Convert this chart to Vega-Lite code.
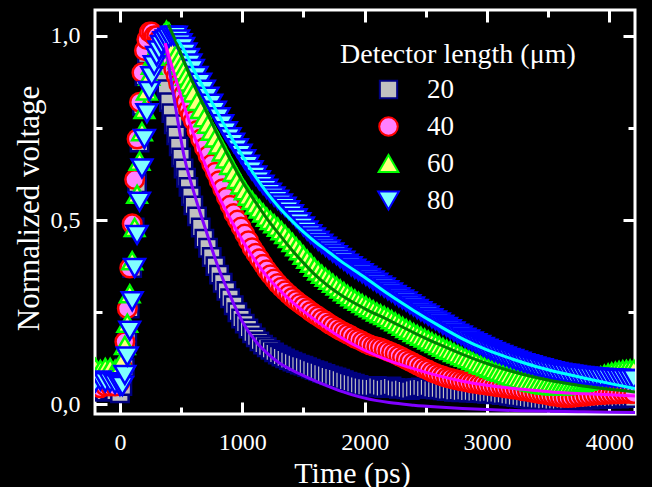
{
"$schema": "https://vega.github.io/schema/vega-lite/v6.json",
"width": 540, "height": 404,
"autosize": {"type": "none"},
"padding": {"left": 95, "top": 10, "right": 17, "bottom": 73},
"background": "black",
"config": {
 "view": {"stroke": "white", "strokeWidth": 3},
 "font": "Liberation Serif",
 "axis": {"grid": false, "domain": false, "tickColor": "white", "tickWidth": 3, "labelColor": "white", "titleColor": "white", "labelFont": "Liberation Serif", "titleFont": "Liberation Serif", "titleFontWeight": "normal"},
 "legend": {"titleColor": "white", "labelColor": "white", "titleFont": "Liberation Serif", "labelFont": "Liberation Serif", "titleFontWeight": "normal"}
},
"datasets": {
"m": [
{"s":"20","t":-200,"v":0.035},{"s":"20","t":-160,"v":0.04},{"s":"20","t":-120,"v":0.035},{"s":"20","t":-80,"v":0.04},{"s":"20","t":-40,"v":0.035},
{"s":"20","t":0,"v":0.03},{"s":"20","t":20,"v":0.05},{"s":"20","t":40,"v":0.1},{"s":"20","t":60,"v":0.17},{"s":"20","t":80,"v":0.26},{"s":"20","t":100,"v":0.37},{"s":"20","t":120,"v":0.48},{"s":"20","t":140,"v":0.6},{"s":"20","t":160,"v":0.71},{"s":"20","t":180,"v":0.81},{"s":"20","t":200,"v":0.89},{"s":"20","t":220,"v":0.95},{"s":"20","t":240,"v":0.99},{"s":"20","t":260,"v":1.0},{"s":"20","t":280,"v":0.99},{"s":"20","t":300,"v":0.97},{"s":"20","t":320,"v":0.95},{"s":"20","t":340,"v":0.92},{"s":"20","t":360,"v":0.89},{"s":"20","t":380,"v":0.855},{"s":"20","t":400,"v":0.82},{"s":"20","t":420,"v":0.79},{"s":"20","t":440,"v":0.76},{"s":"20","t":460,"v":0.73},{"s":"20","t":480,"v":0.7},{"s":"20","t":500,"v":0.67},{"s":"20","t":520,"v":0.64},{"s":"20","t":540,"v":0.615},{"s":"20","t":560,"v":0.59},{"s":"20","t":580,"v":0.565},{"s":"20","t":600,"v":0.54},
{"s":"20","t":630,"v":0.51},{"s":"20","t":660,"v":0.48},{"s":"20","t":690,"v":0.45},{"s":"20","t":720,"v":0.425},{"s":"20","t":750,"v":0.4},{"s":"20","t":780,"v":0.375},{"s":"20","t":810,"v":0.352},{"s":"20","t":840,"v":0.33},{"s":"20","t":870,"v":0.308},{"s":"20","t":900,"v":0.288},{"s":"20","t":930,"v":0.269},{"s":"20","t":960,"v":0.25},{"s":"20","t":990,"v":0.233},{"s":"20","t":1020,"v":0.219},{"s":"20","t":1050,"v":0.206},{"s":"20","t":1080,"v":0.193},{"s":"20","t":1110,"v":0.182},{"s":"20","t":1140,"v":0.171},{"s":"20","t":1170,"v":0.162},{"s":"20","t":1200,"v":0.155},{"s":"20","t":1230,"v":0.148},{"s":"20","t":1260,"v":0.141},{"s":"20","t":1290,"v":0.135},{"s":"20","t":1320,"v":0.13},{"s":"20","t":1350,"v":0.125},{"s":"20","t":1380,"v":0.12},{"s":"20","t":1410,"v":0.116},{"s":"20","t":1440,"v":0.112},{"s":"20","t":1470,"v":0.108},{"s":"20","t":1500,"v":0.105},{"s":"20","t":1530,"v":0.101},{"s":"20","t":1560,"v":0.097},{"s":"20","t":1590,"v":0.093},{"s":"20","t":1620,"v":0.09},{"s":"20","t":1650,"v":0.086},{"s":"20","t":1680,"v":0.083},{"s":"20","t":1710,"v":0.079},{"s":"20","t":1740,"v":0.076},{"s":"20","t":1770,"v":0.073},{"s":"20","t":1800,"v":0.07},{"s":"20","t":1830,"v":0.066},{"s":"20","t":1860,"v":0.062},{"s":"20","t":1890,"v":0.059},{"s":"20","t":1920,"v":0.056},{"s":"20","t":1950,"v":0.053},{"s":"20","t":1980,"v":0.05},
{"s":"20","t":2010,"v":0.048},{"s":"20","t":2040,"v":0.047},{"s":"20","t":2070,"v":0.046},{"s":"20","t":2100,"v":0.05},{"s":"20","t":2130,"v":0.047},{"s":"20","t":2160,"v":0.044},{"s":"20","t":2190,"v":0.046},{"s":"20","t":2220,"v":0.049},{"s":"20","t":2250,"v":0.045},{"s":"20","t":2280,"v":0.042},{"s":"20","t":2310,"v":0.044},{"s":"20","t":2340,"v":0.041},{"s":"20","t":2370,"v":0.039},{"s":"20","t":2400,"v":0.042},{"s":"20","t":2430,"v":0.045},{"s":"20","t":2460,"v":0.046},{"s":"20","t":2490,"v":0.043},{"s":"20","t":2520,"v":0.046},{"s":"20","t":2550,"v":0.042},{"s":"20","t":2580,"v":0.04},{"s":"20","t":2610,"v":0.041},{"s":"20","t":2640,"v":0.038},{"s":"20","t":2670,"v":0.036},{"s":"20","t":2700,"v":0.037},{"s":"20","t":2730,"v":0.034},{"s":"20","t":2760,"v":0.035},{"s":"20","t":2790,"v":0.033},{"s":"20","t":2820,"v":0.034},{"s":"20","t":2850,"v":0.032},{"s":"20","t":2880,"v":0.033},{"s":"20","t":2910,"v":0.031},{"s":"20","t":2940,"v":0.032},{"s":"20","t":2970,"v":0.03},{"s":"20","t":3000,"v":0.029},{"s":"20","t":3030,"v":0.03},{"s":"20","t":3060,"v":0.027},{"s":"20","t":3090,"v":0.028},{"s":"20","t":3120,"v":0.025},{"s":"20","t":3150,"v":0.026},{"s":"20","t":3180,"v":0.023},{"s":"20","t":3210,"v":0.022},{"s":"20","t":3240,"v":0.02},{"s":"20","t":3270,"v":0.019},{"s":"20","t":3300,"v":0.017},{"s":"20","t":3330,"v":0.016},{"s":"20","t":3360,"v":0.014},{"s":"20","t":3390,"v":0.014},{"s":"20","t":3420,"v":0.012},{"s":"20","t":3450,"v":0.012},{"s":"20","t":3480,"v":0.01},{"s":"20","t":3510,"v":0.011},{"s":"20","t":3540,"v":0.009},{"s":"20","t":3570,"v":0.01},{"s":"20","t":3600,"v":0.009},{"s":"20","t":3630,"v":0.011},{"s":"20","t":3660,"v":0.01},{"s":"20","t":3690,"v":0.012},{"s":"20","t":3720,"v":0.011},{"s":"20","t":3750,"v":0.013},{"s":"20","t":3780,"v":0.012},{"s":"20","t":3810,"v":0.014},{"s":"20","t":3840,"v":0.013},{"s":"20","t":3870,"v":0.015},{"s":"20","t":3900,"v":0.014},{"s":"20","t":3930,"v":0.016},{"s":"20","t":3960,"v":0.015},{"s":"20","t":3990,"v":0.017},{"s":"20","t":4020,"v":0.016},{"s":"20","t":4050,"v":0.017},{"s":"20","t":4080,"v":0.016},{"s":"20","t":4110,"v":0.018},{"s":"20","t":4140,"v":0.017},{"s":"20","t":4170,"v":0.018},{"s":"20","t":4200,"v":0.017},

{"s":"40","t":-200,"v":0.05},{"s":"40","t":-160,"v":0.045},{"s":"40","t":-120,"v":0.05},{"s":"40","t":-80,"v":0.05},{"s":"40","t":-40,"v":0.05},
{"s":"40","t":0,"v":0.06},{"s":"40","t":20,"v":0.1},{"s":"40","t":40,"v":0.17},{"s":"40","t":60,"v":0.26},{"s":"40","t":80,"v":0.37},{"s":"40","t":100,"v":0.49},{"s":"40","t":120,"v":0.61},{"s":"40","t":140,"v":0.72},{"s":"40","t":160,"v":0.82},{"s":"40","t":180,"v":0.9},{"s":"40","t":200,"v":0.96},{"s":"40","t":220,"v":0.99},{"s":"40","t":240,"v":1.01},{"s":"40","t":260,"v":1.01},{"s":"40","t":280,"v":1.0},{"s":"40","t":300,"v":1.0},{"s":"40","t":320,"v":0.99},{"s":"40","t":340,"v":0.98},{"s":"40","t":360,"v":0.97},{"s":"40","t":380,"v":0.96},{"s":"40","t":400,"v":0.95},{"s":"40","t":420,"v":0.93},{"s":"40","t":440,"v":0.91},{"s":"40","t":460,"v":0.89},{"s":"40","t":480,"v":0.87},{"s":"40","t":500,"v":0.86},{"s":"40","t":520,"v":0.84},{"s":"40","t":540,"v":0.82},{"s":"40","t":560,"v":0.8},{"s":"40","t":580,"v":0.785},{"s":"40","t":600,"v":0.77},
{"s":"40","t":630,"v":0.743},{"s":"40","t":660,"v":0.72},{"s":"40","t":690,"v":0.697},{"s":"40","t":720,"v":0.675},{"s":"40","t":750,"v":0.652},{"s":"40","t":780,"v":0.63},{"s":"40","t":810,"v":0.607},{"s":"40","t":840,"v":0.585},{"s":"40","t":870,"v":0.562},{"s":"40","t":900,"v":0.54},{"s":"40","t":930,"v":0.518},{"s":"40","t":960,"v":0.5},{"s":"40","t":990,"v":0.481},{"s":"40","t":1020,"v":0.462},{"s":"40","t":1050,"v":0.444},{"s":"40","t":1080,"v":0.425},{"s":"40","t":1110,"v":0.41},{"s":"40","t":1140,"v":0.395},{"s":"40","t":1170,"v":0.38},{"s":"40","t":1200,"v":0.365},{"s":"40","t":1230,"v":0.352},{"s":"40","t":1260,"v":0.34},{"s":"40","t":1290,"v":0.328},{"s":"40","t":1320,"v":0.318},{"s":"40","t":1350,"v":0.308},{"s":"40","t":1380,"v":0.299},{"s":"40","t":1410,"v":0.29},{"s":"40","t":1440,"v":0.282},{"s":"40","t":1470,"v":0.274},{"s":"40","t":1500,"v":0.267},{"s":"40","t":1530,"v":0.26},{"s":"40","t":1560,"v":0.252},{"s":"40","t":1590,"v":0.245},{"s":"40","t":1620,"v":0.239},{"s":"40","t":1650,"v":0.232},{"s":"40","t":1680,"v":0.226},{"s":"40","t":1710,"v":0.219},{"s":"40","t":1740,"v":0.213},{"s":"40","t":1770,"v":0.207},{"s":"40","t":1800,"v":0.201},{"s":"40","t":1830,"v":0.196},{"s":"40","t":1860,"v":0.191},{"s":"40","t":1890,"v":0.186},{"s":"40","t":1920,"v":0.18},{"s":"40","t":1950,"v":0.176},{"s":"40","t":1980,"v":0.171},
{"s":"40","t":2010,"v":0.166},{"s":"40","t":2040,"v":0.162},{"s":"40","t":2070,"v":0.158},{"s":"40","t":2100,"v":0.156},{"s":"40","t":2130,"v":0.153},{"s":"40","t":2160,"v":0.149},{"s":"40","t":2190,"v":0.145},{"s":"40","t":2220,"v":0.141},{"s":"40","t":2250,"v":0.137},{"s":"40","t":2280,"v":0.132},{"s":"40","t":2310,"v":0.127},{"s":"40","t":2340,"v":0.122},{"s":"40","t":2370,"v":0.117},{"s":"40","t":2400,"v":0.112},{"s":"40","t":2430,"v":0.107},{"s":"40","t":2460,"v":0.102},{"s":"40","t":2490,"v":0.097},{"s":"40","t":2520,"v":0.093},{"s":"40","t":2550,"v":0.088},{"s":"40","t":2580,"v":0.084},{"s":"40","t":2610,"v":0.08},{"s":"40","t":2640,"v":0.077},{"s":"40","t":2670,"v":0.073},{"s":"40","t":2700,"v":0.071},{"s":"40","t":2730,"v":0.068},{"s":"40","t":2760,"v":0.066},{"s":"40","t":2790,"v":0.064},{"s":"40","t":2820,"v":0.062},{"s":"40","t":2850,"v":0.06},{"s":"40","t":2880,"v":0.058},{"s":"40","t":2910,"v":0.057},{"s":"40","t":2940,"v":0.055},{"s":"40","t":2970,"v":0.054},{"s":"40","t":3000,"v":0.052},{"s":"40","t":3030,"v":0.051},{"s":"40","t":3060,"v":0.049},{"s":"40","t":3090,"v":0.048},{"s":"40","t":3120,"v":0.047},{"s":"40","t":3150,"v":0.045},{"s":"40","t":3180,"v":0.044},{"s":"40","t":3210,"v":0.042},{"s":"40","t":3240,"v":0.041},{"s":"40","t":3270,"v":0.039},{"s":"40","t":3300,"v":0.037},{"s":"40","t":3330,"v":0.036},{"s":"40","t":3360,"v":0.034},{"s":"40","t":3390,"v":0.032},{"s":"40","t":3420,"v":0.03},{"s":"40","t":3450,"v":0.029},{"s":"40","t":3480,"v":0.027},{"s":"40","t":3510,"v":0.025},{"s":"40","t":3540,"v":0.023},{"s":"40","t":3570,"v":0.022},{"s":"40","t":3600,"v":0.02},{"s":"40","t":3630,"v":0.019},{"s":"40","t":3660,"v":0.019},{"s":"40","t":3690,"v":0.019},{"s":"40","t":3720,"v":0.02},{"s":"40","t":3750,"v":0.021},{"s":"40","t":3780,"v":0.022},{"s":"40","t":3810,"v":0.023},{"s":"40","t":3840,"v":0.024},{"s":"40","t":3870,"v":0.025},{"s":"40","t":3900,"v":0.026},{"s":"40","t":3930,"v":0.027},{"s":"40","t":3960,"v":0.027},{"s":"40","t":3990,"v":0.028},{"s":"40","t":4020,"v":0.028},{"s":"40","t":4050,"v":0.029},{"s":"40","t":4080,"v":0.029},{"s":"40","t":4110,"v":0.03},{"s":"40","t":4140,"v":0.03},{"s":"40","t":4170,"v":0.03},{"s":"40","t":4200,"v":0.03},

{"s":"60","t":-200,"v":0.1},{"s":"60","t":-160,"v":0.095},{"s":"60","t":-120,"v":0.1},{"s":"60","t":-80,"v":0.1},{"s":"60","t":-40,"v":0.095},
{"s":"60","t":0,"v":0.1},{"s":"60","t":20,"v":0.12},{"s":"60","t":40,"v":0.16},{"s":"60","t":60,"v":0.22},{"s":"60","t":80,"v":0.3},{"s":"60","t":100,"v":0.39},{"s":"60","t":120,"v":0.48},{"s":"60","t":140,"v":0.57},{"s":"60","t":160,"v":0.66},{"s":"60","t":180,"v":0.74},{"s":"60","t":200,"v":0.8},{"s":"60","t":220,"v":0.85},{"s":"60","t":240,"v":0.89},{"s":"60","t":260,"v":0.92},{"s":"60","t":280,"v":0.945},{"s":"60","t":300,"v":0.965},{"s":"60","t":320,"v":0.98},{"s":"60","t":340,"v":0.995},{"s":"60","t":360,"v":1.005},{"s":"60","t":380,"v":1.015},{"s":"60","t":400,"v":1.01},{"s":"60","t":420,"v":0.99},{"s":"60","t":440,"v":0.97},{"s":"60","t":460,"v":0.95},{"s":"60","t":480,"v":0.935},{"s":"60","t":500,"v":0.92},{"s":"60","t":520,"v":0.905},{"s":"60","t":540,"v":0.89},{"s":"60","t":560,"v":0.875},{"s":"60","t":580,"v":0.86},{"s":"60","t":600,"v":0.845},
{"s":"60","t":630,"v":0.822},{"s":"60","t":660,"v":0.8},{"s":"60","t":690,"v":0.778},{"s":"60","t":720,"v":0.76},{"s":"60","t":750,"v":0.741},{"s":"60","t":780,"v":0.723},{"s":"60","t":810,"v":0.704},{"s":"60","t":840,"v":0.685},{"s":"60","t":870,"v":0.666},{"s":"60","t":900,"v":0.648},{"s":"60","t":930,"v":0.629},{"s":"60","t":960,"v":0.61},{"s":"60","t":990,"v":0.595},{"s":"60","t":1020,"v":0.58},{"s":"60","t":1050,"v":0.565},{"s":"60","t":1080,"v":0.553},{"s":"60","t":1110,"v":0.541},{"s":"60","t":1140,"v":0.53},{"s":"60","t":1170,"v":0.519},{"s":"60","t":1200,"v":0.508},{"s":"60","t":1230,"v":0.499},{"s":"60","t":1260,"v":0.49},{"s":"60","t":1290,"v":0.481},{"s":"60","t":1320,"v":0.471},{"s":"60","t":1350,"v":0.461},{"s":"60","t":1380,"v":0.45},{"s":"60","t":1410,"v":0.439},{"s":"60","t":1440,"v":0.428},{"s":"60","t":1470,"v":0.417},{"s":"60","t":1500,"v":0.405},{"s":"60","t":1530,"v":0.394},{"s":"60","t":1560,"v":0.383},{"s":"60","t":1590,"v":0.372},{"s":"60","t":1620,"v":0.362},{"s":"60","t":1650,"v":0.353},{"s":"60","t":1680,"v":0.345},{"s":"60","t":1710,"v":0.337},{"s":"60","t":1740,"v":0.329},{"s":"60","t":1770,"v":0.321},{"s":"60","t":1800,"v":0.313},{"s":"60","t":1830,"v":0.306},{"s":"60","t":1860,"v":0.299},{"s":"60","t":1890,"v":0.292},{"s":"60","t":1920,"v":0.286},{"s":"60","t":1950,"v":0.28},{"s":"60","t":1980,"v":0.274},
{"s":"60","t":2010,"v":0.268},{"s":"60","t":2040,"v":0.262},{"s":"60","t":2070,"v":0.257},{"s":"60","t":2100,"v":0.251},{"s":"60","t":2130,"v":0.246},{"s":"60","t":2160,"v":0.241},{"s":"60","t":2190,"v":0.236},{"s":"60","t":2220,"v":0.23},{"s":"60","t":2250,"v":0.224},{"s":"60","t":2280,"v":0.218},{"s":"60","t":2310,"v":0.212},{"s":"60","t":2340,"v":0.206},{"s":"60","t":2370,"v":0.201},{"s":"60","t":2400,"v":0.195},{"s":"60","t":2430,"v":0.19},{"s":"60","t":2460,"v":0.185},{"s":"60","t":2490,"v":0.18},{"s":"60","t":2520,"v":0.175},{"s":"60","t":2550,"v":0.17},{"s":"60","t":2580,"v":0.165},{"s":"60","t":2610,"v":0.16},{"s":"60","t":2640,"v":0.155},{"s":"60","t":2670,"v":0.15},{"s":"60","t":2700,"v":0.146},{"s":"60","t":2730,"v":0.141},{"s":"60","t":2760,"v":0.137},{"s":"60","t":2790,"v":0.132},{"s":"60","t":2820,"v":0.128},{"s":"60","t":2850,"v":0.124},{"s":"60","t":2880,"v":0.119},{"s":"60","t":2910,"v":0.115},{"s":"60","t":2940,"v":0.11},{"s":"60","t":2970,"v":0.106},{"s":"60","t":3000,"v":0.102},{"s":"60","t":3030,"v":0.098},{"s":"60","t":3060,"v":0.094},{"s":"60","t":3090,"v":0.09},{"s":"60","t":3120,"v":0.087},{"s":"60","t":3150,"v":0.083},{"s":"60","t":3180,"v":0.08},{"s":"60","t":3210,"v":0.076},{"s":"60","t":3240,"v":0.073},{"s":"60","t":3270,"v":0.07},{"s":"60","t":3300,"v":0.067},{"s":"60","t":3330,"v":0.064},{"s":"60","t":3360,"v":0.061},{"s":"60","t":3390,"v":0.059},{"s":"60","t":3420,"v":0.057},{"s":"60","t":3450,"v":0.055},{"s":"60","t":3480,"v":0.053},{"s":"60","t":3510,"v":0.052},{"s":"60","t":3540,"v":0.051},{"s":"60","t":3570,"v":0.05},{"s":"60","t":3600,"v":0.05},{"s":"60","t":3630,"v":0.051},{"s":"60","t":3660,"v":0.052},{"s":"60","t":3690,"v":0.053},{"s":"60","t":3720,"v":0.055},{"s":"60","t":3750,"v":0.057},{"s":"60","t":3780,"v":0.06},{"s":"60","t":3810,"v":0.063},{"s":"60","t":3840,"v":0.066},{"s":"60","t":3870,"v":0.07},{"s":"60","t":3900,"v":0.074},{"s":"60","t":3930,"v":0.078},{"s":"60","t":3960,"v":0.082},{"s":"60","t":3990,"v":0.085},{"s":"60","t":4020,"v":0.088},{"s":"60","t":4050,"v":0.09},{"s":"60","t":4080,"v":0.092},{"s":"60","t":4110,"v":0.094},{"s":"60","t":4140,"v":0.095},{"s":"60","t":4170,"v":0.096},{"s":"60","t":4200,"v":0.096},

{"s":"80","t":-200,"v":0.06},{"s":"80","t":-160,"v":0.065},{"s":"80","t":-120,"v":0.06},{"s":"80","t":-80,"v":0.06},{"s":"80","t":-40,"v":0.055},
{"s":"80","t":0,"v":0.05},{"s":"80","t":20,"v":0.05},{"s":"80","t":40,"v":0.08},{"s":"80","t":60,"v":0.13},{"s":"80","t":80,"v":0.2},{"s":"80","t":100,"v":0.28},{"s":"80","t":120,"v":0.37},{"s":"80","t":140,"v":0.46},{"s":"80","t":160,"v":0.55},{"s":"80","t":180,"v":0.64},{"s":"80","t":200,"v":0.72},{"s":"80","t":220,"v":0.79},{"s":"80","t":240,"v":0.85},{"s":"80","t":260,"v":0.89},{"s":"80","t":280,"v":0.92},{"s":"80","t":300,"v":0.945},{"s":"80","t":320,"v":0.96},{"s":"80","t":340,"v":0.975},{"s":"80","t":360,"v":0.985},{"s":"80","t":380,"v":0.99},{"s":"80","t":400,"v":0.995},{"s":"80","t":420,"v":1.0},{"s":"80","t":440,"v":1.0},{"s":"80","t":460,"v":1.0},{"s":"80","t":480,"v":0.99},{"s":"80","t":500,"v":0.98},{"s":"80","t":520,"v":0.97},{"s":"80","t":540,"v":0.955},{"s":"80","t":560,"v":0.94},{"s":"80","t":580,"v":0.925},{"s":"80","t":600,"v":0.91},
{"s":"80","t":630,"v":0.891},{"s":"80","t":660,"v":0.873},{"s":"80","t":690,"v":0.854},{"s":"80","t":720,"v":0.835},{"s":"80","t":750,"v":0.816},{"s":"80","t":780,"v":0.797},{"s":"80","t":810,"v":0.779},{"s":"80","t":840,"v":0.76},{"s":"80","t":870,"v":0.741},{"s":"80","t":900,"v":0.725},{"s":"80","t":930,"v":0.71},{"s":"80","t":960,"v":0.695},{"s":"80","t":990,"v":0.68},{"s":"80","t":1020,"v":0.665},{"s":"80","t":1050,"v":0.65},{"s":"80","t":1080,"v":0.635},{"s":"80","t":1110,"v":0.621},{"s":"80","t":1140,"v":0.608},{"s":"80","t":1170,"v":0.596},{"s":"80","t":1200,"v":0.585},{"s":"80","t":1230,"v":0.574},{"s":"80","t":1260,"v":0.564},{"s":"80","t":1290,"v":0.555},{"s":"80","t":1320,"v":0.545},{"s":"80","t":1350,"v":0.536},{"s":"80","t":1380,"v":0.527},{"s":"80","t":1410,"v":0.516},{"s":"80","t":1440,"v":0.505},{"s":"80","t":1470,"v":0.494},{"s":"80","t":1500,"v":0.483},{"s":"80","t":1530,"v":0.472},{"s":"80","t":1560,"v":0.462},{"s":"80","t":1590,"v":0.453},{"s":"80","t":1620,"v":0.444},{"s":"80","t":1650,"v":0.436},{"s":"80","t":1680,"v":0.428},{"s":"80","t":1710,"v":0.42},{"s":"80","t":1740,"v":0.412},{"s":"80","t":1770,"v":0.405},{"s":"80","t":1800,"v":0.397},{"s":"80","t":1830,"v":0.39},{"s":"80","t":1860,"v":0.382},{"s":"80","t":1890,"v":0.375},{"s":"80","t":1920,"v":0.368},{"s":"80","t":1950,"v":0.362},{"s":"80","t":1980,"v":0.356},
{"s":"80","t":2010,"v":0.349},{"s":"80","t":2040,"v":0.343},{"s":"80","t":2070,"v":0.336},{"s":"80","t":2100,"v":0.33},{"s":"80","t":2130,"v":0.323},{"s":"80","t":2160,"v":0.317},{"s":"80","t":2190,"v":0.31},{"s":"80","t":2220,"v":0.304},{"s":"80","t":2250,"v":0.297},{"s":"80","t":2280,"v":0.291},{"s":"80","t":2310,"v":0.285},{"s":"80","t":2340,"v":0.279},{"s":"80","t":2370,"v":0.272},{"s":"80","t":2400,"v":0.266},{"s":"80","t":2430,"v":0.259},{"s":"80","t":2460,"v":0.253},{"s":"80","t":2490,"v":0.247},{"s":"80","t":2520,"v":0.241},{"s":"80","t":2550,"v":0.234},{"s":"80","t":2580,"v":0.228},{"s":"80","t":2610,"v":0.222},{"s":"80","t":2640,"v":0.216},{"s":"80","t":2670,"v":0.21},{"s":"80","t":2700,"v":0.204},{"s":"80","t":2730,"v":0.198},{"s":"80","t":2760,"v":0.192},{"s":"80","t":2790,"v":0.187},{"s":"80","t":2820,"v":0.181},{"s":"80","t":2850,"v":0.176},{"s":"80","t":2880,"v":0.171},{"s":"80","t":2910,"v":0.166},{"s":"80","t":2940,"v":0.161},{"s":"80","t":2970,"v":0.156},{"s":"80","t":3000,"v":0.151},{"s":"80","t":3030,"v":0.147},{"s":"80","t":3060,"v":0.142},{"s":"80","t":3090,"v":0.138},{"s":"80","t":3120,"v":0.134},{"s":"80","t":3150,"v":0.13},{"s":"80","t":3180,"v":0.126},{"s":"80","t":3210,"v":0.123},{"s":"80","t":3240,"v":0.119},{"s":"80","t":3270,"v":0.116},{"s":"80","t":3300,"v":0.112},{"s":"80","t":3330,"v":0.109},{"s":"80","t":3360,"v":0.106},{"s":"80","t":3390,"v":0.103},{"s":"80","t":3420,"v":0.1},{"s":"80","t":3450,"v":0.098},{"s":"80","t":3480,"v":0.095},{"s":"80","t":3510,"v":0.093},{"s":"80","t":3540,"v":0.09},{"s":"80","t":3570,"v":0.088},{"s":"80","t":3600,"v":0.086},{"s":"80","t":3630,"v":0.084},{"s":"80","t":3660,"v":0.083},{"s":"80","t":3690,"v":0.081},{"s":"80","t":3720,"v":0.08},{"s":"80","t":3750,"v":0.078},{"s":"80","t":3780,"v":0.077},{"s":"80","t":3810,"v":0.076},{"s":"80","t":3840,"v":0.075},{"s":"80","t":3870,"v":0.074},{"s":"80","t":3900,"v":0.073},{"s":"80","t":3930,"v":0.072},{"s":"80","t":3960,"v":0.072},{"s":"80","t":3990,"v":0.071},{"s":"80","t":4020,"v":0.071},{"s":"80","t":4050,"v":0.07},{"s":"80","t":4080,"v":0.07},{"s":"80","t":4110,"v":0.069},{"s":"80","t":4140,"v":0.069},{"s":"80","t":4170,"v":0.068},{"s":"80","t":4200,"v":0.068}
],
"f": [
{"s":"20","t":370,"f":0.98},{"s":"20","t":420,"f":0.875},{"s":"20","t":470,"f":0.775},{"s":"20","t":520,"f":0.68},{"s":"20","t":600,"f":0.58},{"s":"20","t":700,"f":0.475},{"s":"20","t":800,"f":0.375},{"s":"20","t":900,"f":0.295},{"s":"20","t":1000,"f":0.225},{"s":"20","t":1100,"f":0.175},{"s":"20","t":1200,"f":0.14},{"s":"20","t":1300,"f":0.113},{"s":"20","t":1400,"f":0.094},{"s":"20","t":1500,"f":0.078},{"s":"20","t":1600,"f":0.063},{"s":"20","t":1750,"f":0.043},{"s":"20","t":1900,"f":0.026},{"s":"20","t":2000,"f":0.017},{"s":"20","t":2200,"f":0.005},{"s":"20","t":2400,"f":-0.002},{"s":"20","t":2600,"f":-0.007},{"s":"20","t":2800,"f":-0.011},{"s":"20","t":3000,"f":-0.014},{"s":"20","t":3400,"f":-0.018},{"s":"20","t":3800,"f":-0.02},{"s":"20","t":4210,"f":-0.022},
{"s":"40","t":370,"f":0.98},{"s":"40","t":400,"f":0.945},{"s":"40","t":450,"f":0.89},{"s":"40","t":500,"f":0.835},{"s":"40","t":600,"f":0.735},{"s":"40","t":700,"f":0.648},{"s":"40","t":800,"f":0.57},{"s":"40","t":900,"f":0.505},{"s":"40","t":1000,"f":0.445},{"s":"40","t":1100,"f":0.393},{"s":"40","t":1200,"f":0.348},{"s":"40","t":1300,"f":0.312},{"s":"40","t":1400,"f":0.28},{"s":"40","t":1500,"f":0.253},{"s":"40","t":1600,"f":0.228},{"s":"40","t":1800,"f":0.183},{"s":"40","t":2000,"f":0.147},{"s":"40","t":2200,"f":0.119},{"s":"40","t":2400,"f":0.097},{"s":"40","t":2600,"f":0.078},{"s":"40","t":2800,"f":0.063},{"s":"40","t":3000,"f":0.052},{"s":"40","t":3200,"f":0.044},{"s":"40","t":3400,"f":0.038},{"s":"40","t":3600,"f":0.032},{"s":"40","t":3800,"f":0.029},{"s":"40","t":4000,"f":0.026},{"s":"40","t":4210,"f":0.023},
{"s":"60","t":395,"f":1.03},{"s":"60","t":450,"f":0.99},{"s":"60","t":500,"f":0.95},{"s":"60","t":600,"f":0.87},{"s":"60","t":700,"f":0.8},{"s":"60","t":800,"f":0.73},{"s":"60","t":900,"f":0.665},{"s":"60","t":1000,"f":0.605},{"s":"60","t":1100,"f":0.553},{"s":"60","t":1200,"f":0.505},{"s":"60","t":1300,"f":0.462},{"s":"60","t":1400,"f":0.421},{"s":"60","t":1500,"f":0.384},{"s":"60","t":1600,"f":0.35},{"s":"60","t":1700,"f":0.322},{"s":"60","t":1800,"f":0.298},{"s":"60","t":2000,"f":0.26},{"s":"60","t":2200,"f":0.228},{"s":"60","t":2400,"f":0.195},{"s":"60","t":2600,"f":0.164},{"s":"60","t":2800,"f":0.136},{"s":"60","t":3000,"f":0.111},{"s":"60","t":3200,"f":0.09},{"s":"60","t":3400,"f":0.073},{"s":"60","t":3600,"f":0.06},{"s":"60","t":3800,"f":0.049},{"s":"60","t":4000,"f":0.041},{"s":"60","t":4210,"f":0.034},
{"s":"80","t":470,"f":0.99},{"s":"80","t":500,"f":0.975},{"s":"80","t":550,"f":0.945},{"s":"80","t":600,"f":0.91},{"s":"80","t":700,"f":0.85},{"s":"80","t":800,"f":0.79},{"s":"80","t":900,"f":0.73},{"s":"80","t":1000,"f":0.675},{"s":"80","t":1100,"f":0.622},{"s":"80","t":1200,"f":0.575},{"s":"80","t":1300,"f":0.535},{"s":"80","t":1400,"f":0.5},{"s":"80","t":1500,"f":0.468},{"s":"80","t":1600,"f":0.44},{"s":"80","t":1700,"f":0.415},{"s":"80","t":1800,"f":0.39},{"s":"80","t":2000,"f":0.345},{"s":"80","t":2200,"f":0.298},{"s":"80","t":2400,"f":0.255},{"s":"80","t":2600,"f":0.215},{"s":"80","t":2800,"f":0.178},{"s":"80","t":3000,"f":0.148},{"s":"80","t":3200,"f":0.124},{"s":"80","t":3400,"f":0.103},{"s":"80","t":3600,"f":0.086},{"s":"80","t":3800,"f":0.071},{"s":"80","t":4000,"f":0.057},{"s":"80","t":4210,"f":0.043}
]
},
"resolve": {"axis": {"x": "independent", "y": "independent"}},
"layer": [
 {
  "data": {"name": "m"},
  "mark": {"type": "point", "filled": true, "opacity": 1, "strokeWidth": 2.5, "clip": true},
  "encoding": {
   "x": {"field": "t", "type": "quantitative", "scale": {"domain": [-204, 4210], "nice": false, "zero": false},
         "axis": {"orient": "bottom", "values": [0, 1000, 2000, 3000, 4000], "format": "d", "tickSize": -12, "labelFontSize": 24, "labelPadding": 28, "labelFlush": false, "title": "Time (ps)", "titleFontSize": 30, "titleX": 257, "titleY": 68, "titleBaseline": "alphabetic", "titleAlign": "center"}},
   "y": {"field": "v", "type": "quantitative", "scale": {"domain": [-0.026, 1.07], "nice": false, "zero": false},
         "axis": {"orient": "left", "values": [0, 0.5, 1], "format": ".1f", "labelExpr": "replace(datum.label, '.', ',')", "tickSize": -12, "labelFontSize": 24, "labelPadding": 27, "labelFlush": false, "title": "Normalized voltage", "titleFontSize": 31, "titleX": -57, "titleY": 198, "titleBaseline": "alphabetic", "titleAlign": "center", "titleAngle": 270}},
   "shape": {"field": "s", "type": "nominal", "title": "Detector length (μm)",
             "scale": {"domain": ["20", "40", "60", "80"], "range": ["square", "circle", "triangle-up", "triangle-down"]},
             "legend": {"orient": "none", "legendX": 245, "legendY": 31, "titleFontSize": 28, "labelFontSize": 27, "titleLimit": 400, "symbolStrokeWidth": 2, "symbolOffset": 35, "labelOffset": 25, "rowPadding": 9, "titlePadding": 7, "padding": 0}},
   "fill": {"field": "s", "type": "nominal", "title": "Detector length (μm)",
            "scale": {"domain": ["20", "40", "60", "80"], "range": ["#c0c0c0", "#ff80ff", "#ffff80", "#80ffff"]}},
   "stroke": {"field": "s", "type": "nominal", "title": "Detector length (μm)",
              "scale": {"domain": ["20", "40", "60", "80"], "range": ["#000080", "#ff0000", "#00ff00", "#0000ff"]}},
   "size": {"field": "s", "type": "nominal", "title": "Detector length (μm)", "scale": {"domain": ["20", "40", "60", "80"], "range": [300, 430, 560, 600]}}
  }
 },
 {
  "data": {"name": "f"},
  "mark": {"type": "line", "strokeWidth": 3, "interpolate": "monotone", "clip": true},
  "encoding": {
   "x": {"field": "t", "type": "quantitative", "scale": {"domain": [-204, 4210], "nice": false, "zero": false},
         "axis": {"orient": "top", "values": [0, 1000, 2000, 3000, 4000], "tickSize": -12, "labels": false, "title": null}},
   "y": {"field": "f", "type": "quantitative", "scale": {"domain": [-0.026, 1.07], "nice": false, "zero": false},
         "axis": {"orient": "right", "values": [0, 0.5, 1], "tickSize": -12, "labels": false, "title": null}},
   "color": {"field": "s", "type": "nominal", "scale": {"domain": ["20", "40", "60", "80"], "range": ["#8000ff", "#ff00ff", "#008000", "#00ffff"]}, "legend": null}
  }
 },
 {
  "data": {"name": "f"},
  "mark": {"type": "point", "opacity": 0},
  "encoding": {
   "x": {"field": "t", "type": "quantitative", "scale": {"domain": [-204, 4210], "nice": false, "zero": false},
         "axis": {"orient": "bottom", "values": [500, 1500, 2500, 3500], "tickSize": -7, "labels": false, "title": null}},
   "y": {"field": "f", "type": "quantitative", "scale": {"domain": [-0.026, 1.07], "nice": false, "zero": false},
         "axis": {"orient": "left", "values": [0.25, 0.75], "tickSize": -7, "labels": false, "title": null}}
  }
 },
 {
  "data": {"name": "f"},
  "mark": {"type": "point", "opacity": 0},
  "encoding": {
   "x": {"field": "t", "type": "quantitative", "scale": {"domain": [-204, 4210], "nice": false, "zero": false},
         "axis": {"orient": "top", "values": [500, 1500, 2500, 3500], "tickSize": -7, "labels": false, "title": null}},
   "y": {"field": "f", "type": "quantitative", "scale": {"domain": [-0.026, 1.07], "nice": false, "zero": false},
         "axis": {"orient": "right", "values": [0.25, 0.75], "tickSize": -7, "labels": false, "title": null}}
  }
 }
]
}
